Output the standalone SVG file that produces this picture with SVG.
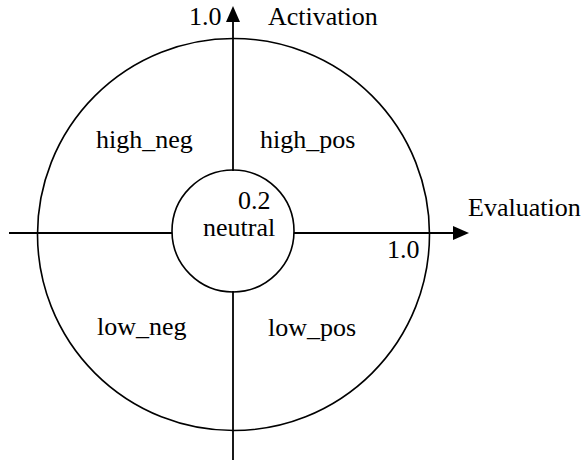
<svg xmlns="http://www.w3.org/2000/svg" width="585" height="461" viewBox="0 0 585 461">
<style>
.c{fill:none;stroke:#000;stroke-width:1.6}
.l{stroke:#000;stroke-width:1.8;fill:none}
.ah{fill:#000;stroke:none}
text{font-family:"Liberation Serif","Times New Roman",serif;font-size:26px;fill:#000}
</style>
<rect width="585" height="461" fill="#fff"/>
<g id="outer"><circle class="c" cx="233.5" cy="234.5" r="196"/></g>
<g id="connectors">
<line class="l" x1="9" y1="233" x2="172" y2="233"/>
<line class="l" x1="294" y1="233" x2="455" y2="233"/>
<polygon class="ah" points="469,233 453,226 453,240"/>
<line class="l" x1="233" y1="171" x2="233" y2="20"/>
<polygon class="ah" points="233,6 226,22 240,22"/>
<line class="l" x1="233" y1="291" x2="233" y2="460"/>
</g>
<g id="neutral">
<circle class="c" cx="233" cy="231" r="61" fill="#fff"/>
<text x="238" y="209">0.2</text>
<text x="203" y="236">neutral</text>
</g>
<g id="high_neg"><text x="96" y="148">high_neg</text></g>
<g id="high_pos"><text x="260" y="148">high_pos</text></g>
<g id="low_neg"><text x="97" y="335">low_neg</text></g>
<g id="low_pos"><text x="268" y="336">low_pos</text></g>
<g id="axis-labels">
<text x="189" y="25">1.0</text>
<text x="268" y="25">Activation</text>
<text x="468" y="216">Evaluation</text>
<text x="387" y="258">1.0</text>
</g>
</svg>
